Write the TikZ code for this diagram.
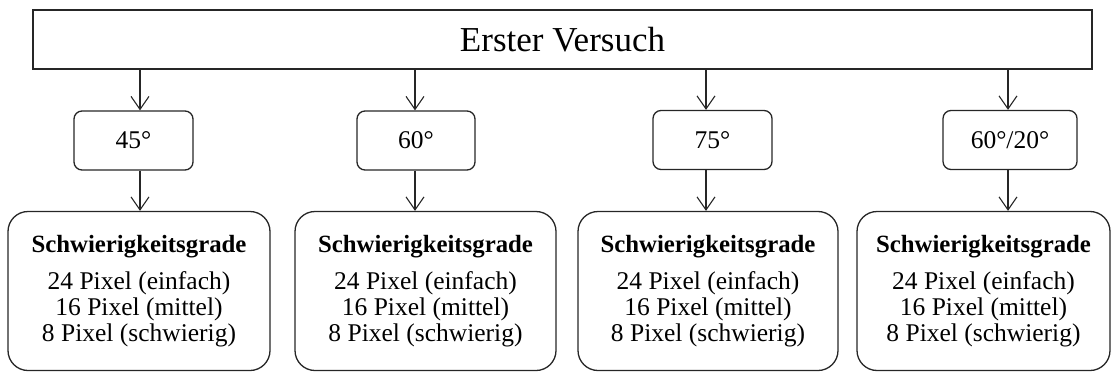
\documentclass[tikz,border=0pt]{standalone}
\usepackage{fontspec}
\setmainfont{Liberation Serif}
\usetikzlibrary{arrows.meta}
\begin{document}
\begin{tikzpicture}[x=1pt,y=-1pt,
  line/.style={draw=black!85, line width=1.3pt},
  topbox/.style={line, minimum width=1059pt, minimum height=59pt, inner sep=0pt,
    font=\fontsize{35}{38}\selectfont},
  anglebox/.style={line, rounded corners=8pt, minimum height=59pt, inner sep=0pt,
    font=\fontsize{25.5}{28}\selectfont},
  levelbox/.style={line, rounded corners=20pt, minimum height=159pt, inner sep=0pt,
    align=center, font=\fontsize{25.5}{26}\selectfont},
  arr/.style={line, -{Straight Barb[length=13pt,width=18pt,line width=1.1pt]}}
]
\useasboundingbox (0,0) rectangle (1113,372);

\node[topbox] (top) at (562.5,39.5) {Erster Versuch};

\node[anglebox, minimum width=119pt] (s1) at (133.5,140.5) {45°};
\node[anglebox, minimum width=118pt] (s2) at (416,140.5) {60°};
\node[anglebox, minimum width=119pt] (s3) at (712.5,140) {75°};
\node[anglebox, minimum width=134pt] (s4) at (1010,140) {60°/20°};

\newcommand{\levels}{{\fontsize{24.8}{26}\selectfont\bfseries Schwierigkeitsgrade}\\[11pt]
  24 Pixel (einfach)\\ 16 Pixel (mittel)\\ 8 Pixel (schwierig)}
\node[levelbox, minimum width=262pt] (b1) at (139,291) {\levels};
\node[levelbox, minimum width=261pt] (b2) at (425.5,291) {\levels};
\node[levelbox, minimum width=260pt] (b3) at (708,291) {\levels};
\node[levelbox, minimum width=253pt] (b4) at (983.5,291) {\levels};

\coordinate (c1) at (140,0);
\coordinate (c2) at (415,0);
\coordinate (c3) at (706,0);
\coordinate (c4) at (1008,0);

\foreach \i in {1,2,3,4} {
  \draw[arr] (top.south -| c\i) -- (s\i.north -| c\i);
  \draw[arr] (s\i.south -| c\i) -- (b\i.north -| c\i);
}
\end{tikzpicture}
\end{document}
